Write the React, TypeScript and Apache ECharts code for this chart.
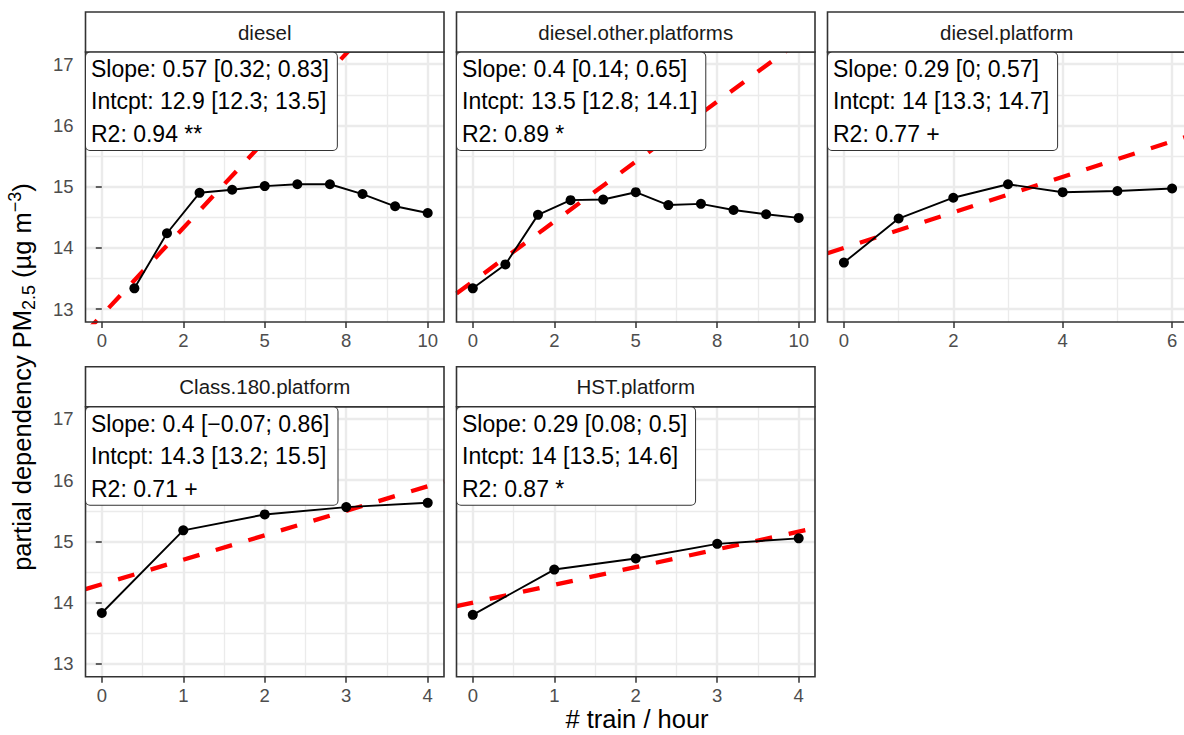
import React, { useEffect, useRef } from "react";
import * as echarts from "echarts";

const FONT = "'Liberation Sans', Arial, Helvetica, sans-serif";

// ---------- data ----------
const panelNames = [
  "diesel",
  "diesel.other.platforms",
  "diesel.platform",
  "Class.180.platform",
  "HST.platform",
];

const dieselX = [1, 2, 3, 4, 5, 6, 7, 8, 9, 10];
const dieselY = [13.34, 14.24, 14.9, 14.95, 15.01, 15.04, 15.04, 14.88, 14.68, 14.57];
const dieselOtherX = [0, 1, 2, 3, 4, 5, 6, 7, 8, 9, 10];
const dieselOtherY = [13.34, 13.73, 14.54, 14.78, 14.79, 14.91, 14.7, 14.72, 14.62, 14.55, 14.49];
const dieselPlatformX = [0, 1, 2, 3, 4, 5, 6];
const dieselPlatformY = [13.76, 14.48, 14.82, 15.04, 14.91, 14.93, 14.97];
const class180X = [0, 1, 2, 3, 4];
const class180Y = [13.83, 15.18, 15.44, 15.56, 15.63];
const hstX = [0, 1, 2, 3, 4];
const hstY = [13.8, 14.54, 14.72, 14.96, 15.05];

const fitIntercepts = [12.9, 13.45, 14.0, 14.3, 14.0];
const fitSlopes = [0.57, 0.392, 0.29, 0.4, 0.29];

const slopeLabels = [
  "Slope: 0.57 [0.32; 0.83]",
  "Slope: 0.4 [0.14; 0.65]",
  "Slope: 0.29 [0; 0.57]",
  "Slope: 0.4 [\u22120.07; 0.86]",
  "Slope: 0.29 [0.08; 0.5]",
];
const interceptLabels = [
  "Intcpt: 12.9 [12.3; 13.5]",
  "Intcpt: 13.5 [12.8; 14.1]",
  "Intcpt: 14 [13.3; 14.7]",
  "Intcpt: 14.3 [13.2; 15.5]",
  "Intcpt: 14 [13.5; 14.6]",
];
const r2Labels = ["R2: 0.94 **", "R2: 0.89 *", "R2: 0.77 +", "R2: 0.71 +", "R2: 0.87 *"];

const yTicks = [13, 14, 15, 16, 17];
const yMinorTicks = [13.5, 14.5, 15.5, 16.5];
const yLimits = [12.79, 17.2];

const xTicksWide = [0, 2.5, 5, 7.5, 10];
const xTickLabelsWide = ["0", "2", "5", "8", "10"];
const xMinorWide = [1.25, 3.75, 6.25, 8.75];
const xLimitsWide = [-0.5, 10.5];

const xTicksMid = [0, 2, 4, 6];
const xTickLabelsMid = ["0", "2", "4", "6"];
const xMinorMid = [1, 3, 5];
const xLimitsMid = [-0.3, 6.3];

const xTicksNarrow = [0, 1, 2, 3, 4];
const xTickLabelsNarrow = ["0", "1", "2", "3", "4"];
const xMinorNarrow = [0.5, 1.5, 2.5, 3.5];
const xLimitsNarrow = [-0.2, 4.2];

const xTitle = "# train / hour";

// ---------- layout ----------
const PANEL_LEFT = [85.5, 456.5, 827.5, 85.5, 456.5];
const PANEL_TOP = [52, 52, 52, 406.7, 406.7];
const PANEL_WIDTH = [358.5, 358.5, 361, 358.5, 358.5];
const PANEL_H = 270;
const STRIP_H = 40;

const panelData = [
  { x: dieselX, y: dieselY, ticks: xTicksWide, labels: xTickLabelsWide, minor: xMinorWide, lim: xLimitsWide },
  { x: dieselOtherX, y: dieselOtherY, ticks: xTicksWide, labels: xTickLabelsWide, minor: xMinorWide, lim: xLimitsWide },
  { x: dieselPlatformX, y: dieselPlatformY, ticks: xTicksMid, labels: xTickLabelsMid, minor: xMinorMid, lim: xLimitsMid },
  { x: class180X, y: class180Y, ticks: xTicksNarrow, labels: xTickLabelsNarrow, minor: xMinorNarrow, lim: xLimitsNarrow },
  { x: hstX, y: hstY, ticks: xTicksNarrow, labels: xTickLabelsNarrow, minor: xMinorNarrow, lim: xLimitsNarrow },
];

const showYLabels = [true, false, false, true, false];

function buildOption() {
  const grid: any[] = [];
  const xAxis: any[] = [];
  const yAxis: any[] = [];
  const series: any[] = [];
  const graphic: any[] = [];

  panelData.forEach((p, i) => {
    const W = PANEL_WIDTH[i];
    grid.push({
      left: PANEL_LEFT[i],
      top: PANEL_TOP[i],
      width: W,
      height: PANEL_H,
      show: true,
      backgroundColor: "#FFFFFF",
      borderWidth: 0,
    });
    // major x axis
    xAxis.push({
      type: "value",
      gridIndex: i,
      min: p.lim[0],
      max: p.lim[1],
      position: "bottom",
      axisLine: { show: false },
      axisTick: {
        show: true,
        customValues: p.ticks,
        length: 6,
        lineStyle: { color: "#333333", width: 1.5 },
      },
      axisLabel: {
        show: true,
        customValues: p.ticks,
        formatter: (v: number) => {
          const k = p.ticks.indexOf(v);
          return k >= 0 ? p.labels[k] : String(v);
        },
        color: "#4D4D4D",
        fontSize: 18.5,
        fontFamily: FONT,
        margin: 9,
      },
      splitLine: { show: true, lineStyle: { color: "#EBEBEB", width: 2.4 } },
      minorTick: { show: false },
      minorSplitLine: { show: false },
    });
    // minor x axis (grid lines only)
    xAxis.push({
      type: "value",
      gridIndex: i,
      min: p.lim[0],
      max: p.lim[1],
      position: "top",
      axisLine: { show: false },
      axisTick: { show: false, customValues: p.minor },
      axisLabel: { show: false, customValues: p.minor },
      splitLine: { show: true, lineStyle: { color: "#EBEBEB", width: 1.3 } },
    });
    // major y axis
    yAxis.push({
      type: "value",
      gridIndex: i,
      min: yLimits[0],
      max: yLimits[1],
      position: "left",
      axisLine: { show: false },
      axisTick: {
        show: showYLabels[i],
        customValues: yTicks,
        length: 6,
        lineStyle: { color: "#333333", width: 1.5 },
      },
      axisLabel: {
        show: showYLabels[i],
        customValues: yTicks,
        color: "#4D4D4D",
        fontSize: 18.5,
        fontFamily: FONT,
        margin: 12,
      },
      splitLine: { show: true, lineStyle: { color: "#EBEBEB", width: 2.4 } },
    });
    // minor y axis
    yAxis.push({
      type: "value",
      gridIndex: i,
      min: yLimits[0],
      max: yLimits[1],
      position: "right",
      axisLine: { show: false },
      axisTick: { show: false, customValues: yMinorTicks },
      axisLabel: { show: false, customValues: yMinorTicks },
      splitLine: { show: true, lineStyle: { color: "#EBEBEB", width: 1.3 } },
    });

    const a = fitIntercepts[i];
    const b = fitSlopes[i];
    series.push({
      type: "line",
      xAxisIndex: 2 * i,
      yAxisIndex: 2 * i,
      data: [
        [p.lim[0], a + b * p.lim[0]],
        [p.lim[1], a + b * p.lim[1]],
      ],
      showSymbol: false,
      symbol: "none",
      clip: true,
      silent: true,
      z: 3,
      lineStyle: { color: "#FF0000", width: 4.3, type: [17, 17], cap: "butt" },
    });
    series.push({
      type: "line",
      xAxisIndex: 2 * i,
      yAxisIndex: 2 * i,
      data: p.x.map((xv, k) => [xv, p.y[k]]),
      symbol: "circle",
      symbolSize: 10,
      showSymbol: true,
      clip: false,
      silent: true,
      z: 4,
      itemStyle: { color: "#000000", borderWidth: 0 },
      lineStyle: { color: "#000000", width: 1.9 },
    });

    const L = PANEL_LEFT[i];
    const T = PANEL_TOP[i];
    // panel border (on top of data)
    graphic.push({
      type: "rect",
      z: 50,
      silent: true,
      shape: { x: L, y: T, width: W, height: PANEL_H },
      style: { fill: "none", stroke: "#333333", lineWidth: 1.6 },
    });
    // strip
    graphic.push({
      type: "rect",
      z: 50,
      silent: true,
      shape: { x: L, y: T - STRIP_H, width: W, height: STRIP_H },
      style: { fill: "#FFFFFF", stroke: "#333333", lineWidth: 1.6 },
    });
    graphic.push({
      type: "text",
      z: 51,
      silent: true,
      x: L + 358.5 / 2,
      y: T - STRIP_H / 2,
      style: {
        text: panelNames[i],
        fill: "#1A1A1A",
        font: `20.5px ${FONT}`,
        align: "center",
        verticalAlign: "middle",
      },
    });
    // stats label box
    graphic.push({
      type: "text",
      z: 60,
      silent: true,
      x: L + 0.5,
      y: T + 0.8,
      style: {
        text: [slopeLabels[i], interceptLabels[i], r2Labels[i]].join("\n"),
        fill: "#000000",
        font: `23px ${FONT}`,
        lineHeight: 32.4,
        align: "left",
        verticalAlign: "top",
        backgroundColor: "#FFFFFF",
        borderColor: "#333333",
        borderWidth: 1,
        borderRadius: 4,
        padding: [0, 8, 0, 5],
      },
    });
  });

  // axis titles
  graphic.push({
    type: "text",
    z: 60,
    silent: true,
    x: 637,
    y: 719,
    style: {
      text: xTitle,
      fill: "#000000",
      font: `25.5px ${FONT}`,
      align: "center",
      verticalAlign: "middle",
    },
  });
  graphic.push({
    type: "text",
    z: 60,
    silent: true,
    x: 22,
    y: 377,
    rotation: Math.PI / 2,
    style: {
      text: "{a|partial dependency PM}{sub|2.5}{a| (\u00b5g m}{sup|\u22123}{a|)}",
      align: "center",
      verticalAlign: "middle",
      rich: {
        a: { fontSize: 25.5, fontFamily: FONT, fill: "#000000", lineHeight: 32 },
        sub: { fontSize: 18, fontFamily: FONT, fill: "#000000", lineHeight: 17, verticalAlign: "bottom" },
        sup: { fontSize: 18, fontFamily: FONT, fill: "#000000", lineHeight: 11, verticalAlign: "top" },
      },
    },
  });

  return {
    animation: false,
    backgroundColor: "#FFFFFF",
    grid,
    xAxis,
    yAxis,
    series,
    graphic,
  };
}

export default function App() {
  const ref = useRef<HTMLDivElement | null>(null);
  useEffect(() => {
    document.body.style.margin = "0";
    document.body.style.overflow = "hidden";
    document.body.style.background = "#FFFFFF";
    if (!ref.current) return;
    const chart = echarts.init(ref.current, undefined, { renderer: "svg" });
    chart.setOption(buildOption() as any);
    return () => chart.dispose();
  }, []);
  return <div ref={ref} style={{ width: 1200, height: 735 }} />;
}
